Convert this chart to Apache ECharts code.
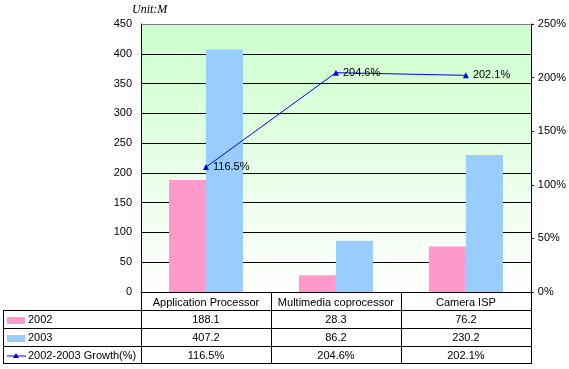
<!DOCTYPE html>
<html>
<head>
<meta charset="utf-8">
<script src="https://cdn.jsdelivr.net/npm/echarts@6/dist/echarts.min.js"></script>
<style>html,body{margin:0;padding:0;background:#fff;}#c{width:569px;height:369px;}</style>
</head>
<body>
<div id="c"></div>
<script>
var categories = ['Application Processor', 'Multimedia coprocessor', 'Camera ISP'];
var seriesNames = ['2002', '2003', '2002-2003 Growth(%)'];
var values2002 = [188.1, 28.3, 76.2];
var values2003 = [407.2, 86.2, 230.2];
var growth = [116.5, 204.6, 202.1];
var unitLabel = 'Unit:M';

var FONT = '"Liberation Sans", Arial, sans-serif';
var GL = 141, GR = 531, GT = 24, GB = 292, W = 569, H = 369;
var rowLines = [310, 328, 346, 363];
var TL = 3;

var chart = echarts.init(document.getElementById('c'), null, {renderer: 'canvas'});

var splitColors = [];
for (var i = 0; i < 9; i++) splitColors.push('#000000');
splitColors.push('#808080');

var graphics = [];
graphics.push({type: 'text', left: 132, top: 4, style: {text: unitLabel, font: 'italic 12px "Liberation Serif", "Times New Roman", serif', fill: '#000'}});
rowLines.forEach(function (y) {
  graphics.push({type: 'line', shape: {x1: TL, y1: y + 0.5, x2: GR, y2: y + 0.5}, style: {stroke: '#000', lineWidth: 1}, z: 10});
});
graphics.push({type: 'line', shape: {x1: TL + 0.5, y1: rowLines[0], x2: TL + 0.5, y2: rowLines[3] + 1}, style: {stroke: '#000', lineWidth: 1}, z: 10});
var keyColors = ['#ff99cc', '#99ccff'];
for (var r = 0; r < 3; r++) {
  var cy = (rowLines[r] + rowLines[r + 1]) / 2 + 1.5;
  if (r < 2) {
    graphics.push({type: 'rect', shape: {x: 7, y: cy - 3.5, width: 18, height: 7}, style: {fill: keyColors[r]}, z: 10});
  } else {
    graphics.push({type: 'line', shape: {x1: 7, y1: cy, x2: 26, y2: cy}, style: {stroke: '#0000ff', lineWidth: 1}, z: 10});
    graphics.push({type: 'polygon', shape: {points: [[16, cy - 3], [19, cy + 2], [13, cy + 2]]}, style: {fill: '#0000ff'}, z: 11});
  }
  graphics.push({type: 'text', left: 28, top: cy - 6, style: {text: seriesNames[r], font: '11px ' + FONT, fill: '#000'}, z: 10});
}

function fmt(v) { return String(v); }

chart.setOption({
  animation: false,
  textStyle: {fontFamily: FONT},
  grid: {
    left: GL, right: W - GR, top: GT, bottom: H - GB,
    show: true, borderWidth: 0,
    backgroundColor: {type: 'linear', x: 0, y: 0, x2: 0, y2: 1,
      colorStops: [{offset: 0, color: '#ccffcc'}, {offset: 1, color: '#ffffff'}]}
  },
  xAxis: {
    type: 'category', data: categories, boundaryGap: true,
    axisLine: {show: true, lineStyle: {color: '#000', width: 1}},
    axisTick: {show: true, length: rowLines[3] - GB + 1, inside: false, lineStyle: {color: '#000'}},
    axisLabel: {
      interval: 0, margin: 2, color: '#000', fontSize: 11, fontFamily: FONT,
      formatter: function (val, idx) {
        return '{h|' + val + '}\n{v|' + fmt(values2002[idx]) + '}\n{v|' + fmt(values2003[idx]) + '}\n{v|' + fmt(growth[idx]) + '%}';
      },
      rich: {
        h: {lineHeight: 17, fontSize: 11, fontFamily: FONT, color: '#000'},
        v: {lineHeight: 18, fontSize: 11, fontFamily: FONT, color: '#000'}
      }
    },
    splitLine: {show: false}
  },
  yAxis: [{
    type: 'value', min: 0, max: 450, interval: 50, position: 'left',
    axisLine: {show: true, lineStyle: {color: '#000'}},
    axisTick: {show: false},
    axisLabel: {color: '#000', fontSize: 11, margin: 9, fontFamily: FONT},
    splitLine: {show: true, lineStyle: {color: splitColors, width: 1}}
  }, {
    type: 'value', min: 0, max: 250, interval: 50, position: 'right',
    axisLine: {show: true, lineStyle: {color: '#000'}},
    axisTick: {show: true, length: 3, inside: false, lineStyle: {color: '#000'}},
    axisLabel: {color: '#000', fontSize: 11, margin: 7, fontFamily: FONT, formatter: '{value}%'},
    splitLine: {show: false}
  }],
  series: [{
    name: seriesNames[0], type: 'bar', data: values2002, barWidth: 37, barGap: '0%',
    itemStyle: {color: '#ff99cc'}
  }, {
    name: seriesNames[1], type: 'bar', data: values2003, barWidth: 37, barGap: '0%',
    itemStyle: {color: '#99ccff'}
  }, {
    name: seriesNames[2], type: 'line', yAxisIndex: 1, data: growth, z: 5,
    lineStyle: {color: '#0000ff', width: 1}, itemStyle: {color: '#0000ff'},
    symbol: 'triangle', symbolSize: 6,
    label: {show: true, position: 'right', distance: 4, color: '#000', fontSize: 11, fontFamily: FONT, formatter: '{c}%'}
  }],
  graphic: graphics
});
</script>
</body>
</html>
